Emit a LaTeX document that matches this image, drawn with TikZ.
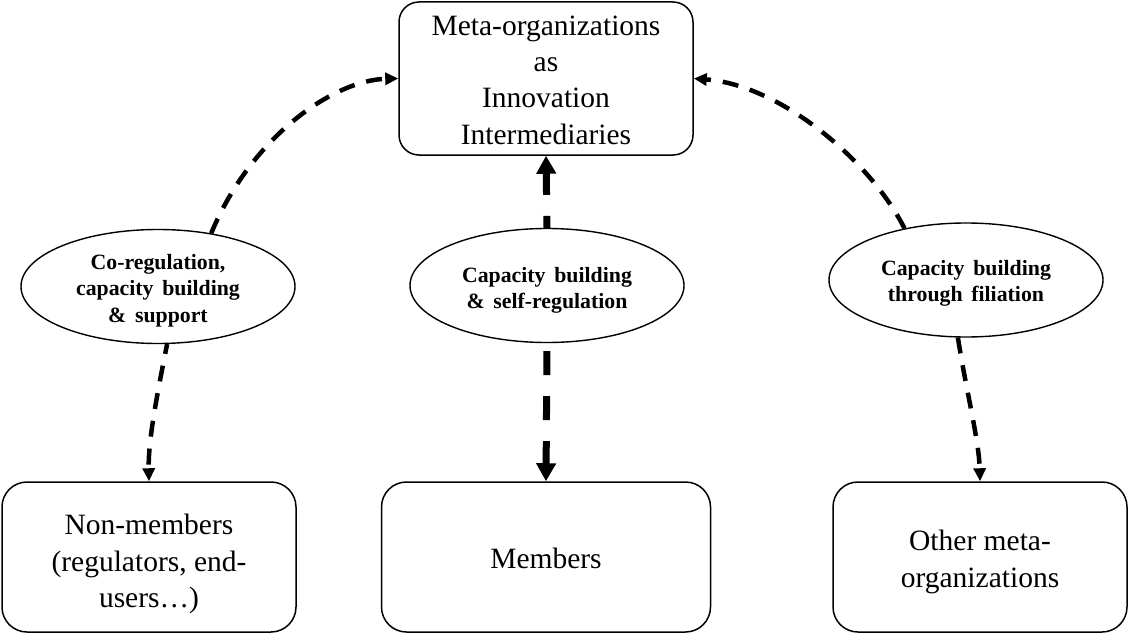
\documentclass[tikz,border=0pt]{standalone}
\usepackage{fontspec}
\setmainfont{Liberation Serif}
\usetikzlibrary{shapes.geometric,arrows.meta}
\newcommand\myellfont{\fontsize{21.8}{26.5}\selectfont\bfseries\spaceskip=0.4em\relax}
\begin{document}
\begin{tikzpicture}[x=1pt,y=-1pt,
  boxnode/.style={draw, line width=1.5pt, rounded corners=25pt, inner sep=0pt},
  boxtext/.style={align=center, inner sep=0pt, font=\fontsize{29.5}{36.3}\selectfont},
  ellnode/.style={draw, ellipse, line width=1.4pt, minimum width=274pt, minimum height=114pt, inner sep=0pt},
  elltext/.style={align=center, inner sep=0pt, font=\myellfont},
  sidearrow/.style={line width=4.5pt, dash pattern=on 16pt off 12pt, -{Triangle[length=13pt,width=12pt]}},
  midarrow/.style={line width=7pt, dash pattern=on 24pt off 21pt, -{Triangle[length=18pt,width=19pt]}}
]
\useasboundingbox (0,0) rectangle (1128,634);

\node[boxnode, rounded corners=20pt, minimum width=294pt, minimum height=153pt] (top) at (546,78.5) {};
\node[boxtext] (topt) at (546,80) {Meta-organizations\\as\\Innovation\\Intermediaries};
\node[boxnode, minimum width=294pt, minimum height=150pt] (nm) at (149,557) {};
\node[boxtext] (nmt) at (149,564) {Non-members\\(regulators, end-\\users…)};
\node[boxnode, minimum width=329pt, minimum height=150pt] (mem) at (546,557) {};
\node[boxtext] (memt) at (546,558) {Members};
\node[boxnode, minimum width=294pt, minimum height=150pt] (om) at (980,557) {};
\node[boxtext] (omt) at (980,562) {Other meta-\\organizations};

\node[ellnode] (e1) at (158,286.5) {};
\node[elltext] (e1t) at (158,290.5) {Co-regulation,\\capacity building\\\& support};
\node[ellnode] (e2) at (547,285.5) {};
\node[elltext] (e2t) at (547,290.5) {Capacity building\\\& self-regulation};
\node[ellnode] (e3) at (966,280) {};
\node[elltext] (e3t) at (966,283.5) {Capacity building\\through filiation};

\draw[sidearrow] (e1.45) .. controls (252,135) and (335,80) .. (top.west);
\draw[sidearrow, dash phase=6pt] (e1.-81) .. controls (158,390) and (148,440) .. (nm.north);
\draw[sidearrow] (e3.140) .. controls (870,160) and (780,85) .. (top.east);
\draw[sidearrow] (e3.-98) .. controls (966,390) and (979,440) .. (om.north);
\draw[midarrow, dash phase=12pt] (e2.north) -- (top.south);
\draw[midarrow, dash phase=37pt] (e2.south) -- (mem.north);
\end{tikzpicture}
\end{document}
